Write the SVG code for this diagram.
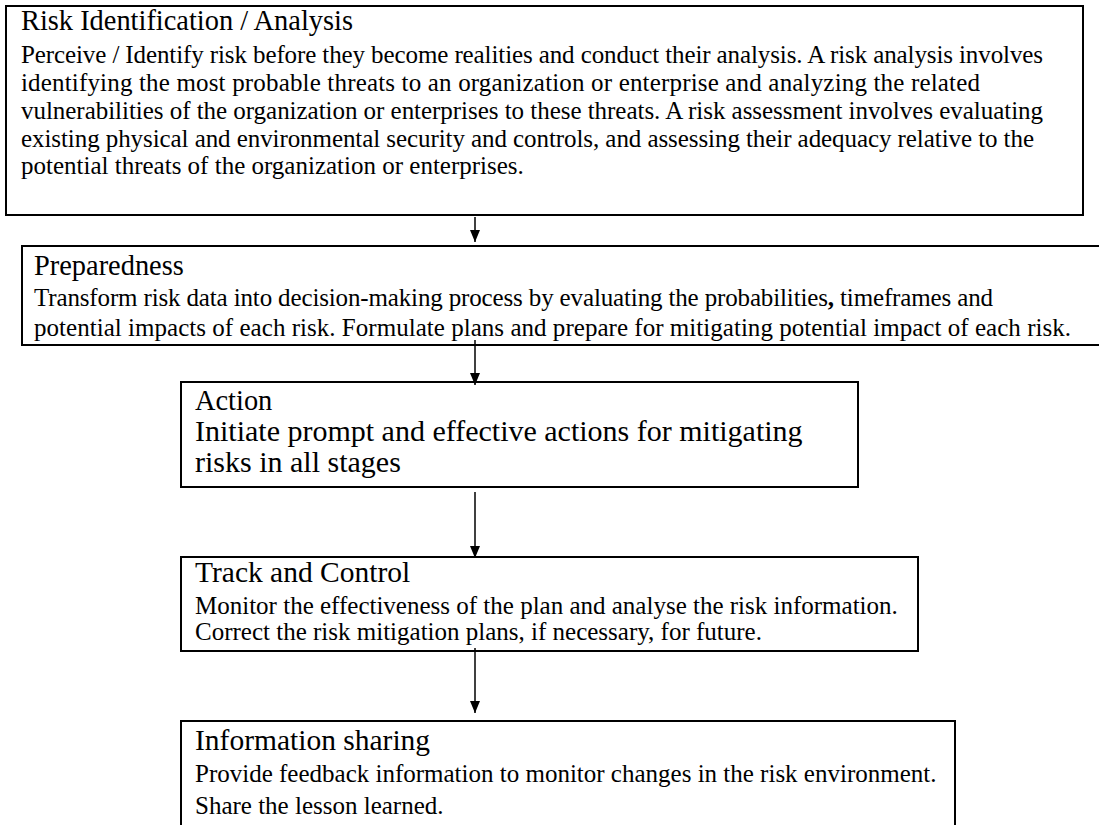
<svg xmlns="http://www.w3.org/2000/svg" width="1099" height="825" viewBox="0 0 1099 825">
  <style>
    .box { fill: #ffffff; stroke: #000000; stroke-width: 2; }
    text { font-family: "Liberation Serif", "Times New Roman", serif; fill: #000000; }
    .head { font-size: 28.4px; }
    .head-b { font-size: 29.5px; }
    .body { font-size: 25px; }
    .body-lg { font-size: 30px; }
    .link { stroke: #000000; stroke-width: 1.5; fill: none; marker-end: url(#arrow); }
  </style>
  <defs>
    <marker id="arrow" viewBox="0 0 12 10" refX="12" refY="5" markerWidth="12" markerHeight="10" markerUnits="userSpaceOnUse" orient="auto">
      <path d="M0,0 L12,5 L0,10 Z" fill="#000000"/>
    </marker>
  </defs>

  <g id="risk-identification">
    <rect class="box" x="6" y="6" width="1077" height="209"/>
    <text class="head" x="21" y="30">Risk Identification / Analysis</text>
    <text class="body" x="21" y="63" textLength="1022" lengthAdjust="spacing">Perceive / Identify risk before they become realities and conduct their analysis. A risk analysis involves</text>
    <text class="body" x="21" y="91" textLength="959" lengthAdjust="spacing">identifying the most probable threats to an organization or enterprise and analyzing the related</text>
    <text class="body" x="21" y="119" textLength="1022" lengthAdjust="spacing">vulnerabilities of the organization or enterprises to these threats. A risk assessment involves evaluating</text>
    <text class="body" x="21" y="147" textLength="1013" lengthAdjust="spacing">existing physical and environmental security and controls, and assessing their adequacy relative to the</text>
    <text class="body" x="21" y="174">potential threats of the organization or enterprises.</text>
  </g>

  <g id="preparedness">
    <rect class="box" x="22" y="246" width="1090" height="99"/>
    <text class="head" x="34" y="275">Preparedness</text>
    <text class="body" x="34" y="306" textLength="959" lengthAdjust="spacing">Transform risk data into decision-making process by evaluating the probabilities<tspan font-weight="bold">,</tspan> timeframes and</text>
    <text class="body" x="34" y="336" textLength="1037" lengthAdjust="spacing">potential impacts of each risk. Formulate plans and prepare for mitigating potential impact of each risk.</text>
  </g>

  <g id="action">
    <rect class="box" x="181" y="382" width="677" height="105"/>
    <text class="head" x="195" y="410">Action</text>
    <text class="body-lg" x="195" y="441">Initiate prompt and effective actions for mitigating</text>
    <text class="body-lg" x="195" y="472">risks in all stages</text>
  </g>

  <g id="track-control">
    <rect class="box" x="181" y="557" width="737" height="94"/>
    <text class="head-b" x="195" y="582">Track and Control</text>
    <text class="body" x="195" y="614">Monitor the effectiveness of the plan and analyse the risk information.</text>
    <text class="body" x="195" y="640">Correct the risk mitigation plans, if necessary, for future.</text>
  </g>

  <g id="information-sharing">
    <rect class="box" x="181" y="721" width="774" height="120"/>
    <text class="head-b" x="195" y="750">Information sharing</text>
    <text class="body" x="195" y="782">Provide feedback information to monitor changes in the risk environment.</text>
    <text class="body" x="195" y="814">Share the lesson learned.</text>
  </g>

  <g id="connectors">
    <line class="link" x1="475" y1="217" x2="475" y2="242"/>
    <line class="link" x1="475" y1="340" x2="475" y2="385"/>
    <line class="link" x1="475" y1="492" x2="475" y2="558"/>
    <line class="link" x1="475" y1="648" x2="475" y2="713"/>
  </g>
</svg>
